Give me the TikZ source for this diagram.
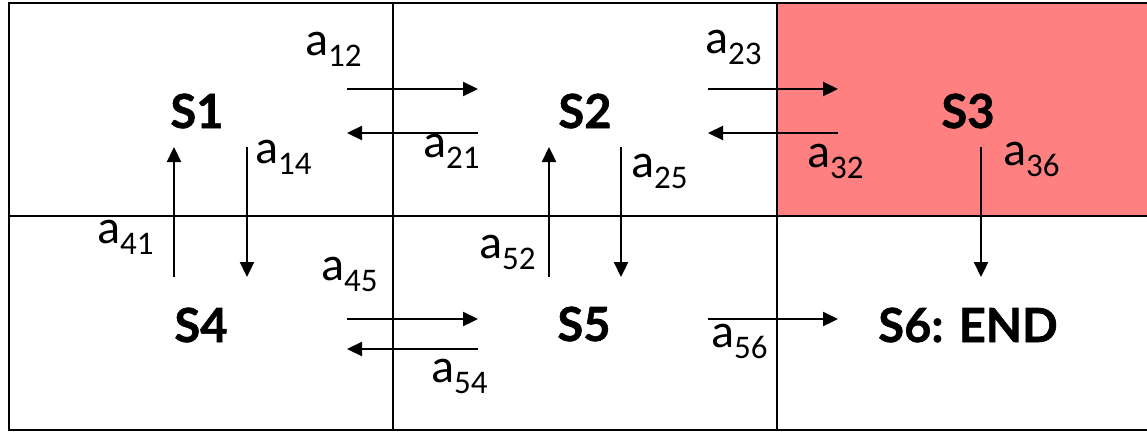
\documentclass[tikz,border=0pt]{standalone}
\usepackage{fontspec}
\setmainfont{Carlito}
\newfontfamily\stfont[BoldFeatures={FakeBold=1.2}]{Lato}
\usetikzlibrary{arrows.meta}
\definecolor{pinkcell}{RGB}{255,128,128}
\newcommand{\alab}[1]{a\raisebox{-11pt}{\fontsize{33}{33}\selectfont #1}}
\begin{document}
\begin{tikzpicture}[x=1pt,y=-1pt,
  grid/.style={line width=2.5pt,draw=black},
  arr/.style={line width=2.3pt,-{Triangle[length=15pt,width=14pt]}},
  lab/.style={inner sep=0pt,anchor=base west,font=\fontsize{48}{48}\selectfont},
  st/.style={inner sep=0pt,anchor=base,font=\stfont\bfseries\fontsize{47}{47}\selectfont}]
\useasboundingbox (0,0) rectangle (1147,431);
\fill[white] (0,0) rectangle (1147,431);
\fill[pinkcell] (777,3) rectangle (1150,216);
\draw[grid] (9,3) rectangle (1152,430);
\draw[grid] (393,3) -- (393,430);
\draw[grid] (777,3) -- (777,430);
\draw[grid] (9,216) -- (1152,216);
% states
\node[st] (S1) at (197,128) {S1};
\node[st] (S2) at (585,128) {S2};
\node[st] (S3) at (968,128) {S3};
\node[st] (S4) at (201,342) {S4};
\node[st] (S5) at (584,341) {S5};
\node[st] (S6) at (968,342) {S6: END};
% arrow end points
\coordinate (a12s) at (347,89);  \coordinate (a12e) at (478,89);
\coordinate (a21s) at (478,133); \coordinate (a21e) at (347,133);
\coordinate (a23s) at (708,89);  \coordinate (a23e) at (838,89);
\coordinate (a32s) at (838,133); \coordinate (a32e) at (708,133);
\coordinate (a14s) at (247,147); \coordinate (a14e) at (247,277);
\coordinate (a41s) at (174,277); \coordinate (a41e) at (174,147);
\coordinate (a25s) at (621,147); \coordinate (a25e) at (621,277);
\coordinate (a52s) at (549,277); \coordinate (a52e) at (549,147);
\coordinate (a36s) at (981,147); \coordinate (a36e) at (981,277);
\coordinate (a45s) at (347,319); \coordinate (a45e) at (478,319);
\coordinate (a54s) at (478,349); \coordinate (a54e) at (347,349);
\coordinate (a56s) at (708,319); \coordinate (a56e) at (838,319);
\foreach \p in {12,21,23,32,14,41,25,52,36,45,54,56}
  \draw[arr] (a\p s) -- (a\p e);
% labels
\node[lab] (l12) at (305,55)  {\alab{12}};
\node[lab] (l21) at (423,157) {\alab{21}};
\node[lab] (l23) at (705,53)  {\alab{23}};
\node[lab] (l32) at (807,167) {\alab{32}};
\node[lab] (l14) at (255,163) {\alab{14}};
\node[lab] (l41) at (97,243)  {\alab{41}};
\node[lab] (l25) at (631,177) {\alab{25}};
\node[lab] (l52) at (479,258) {\alab{52}};
\node[lab] (l36) at (1003,165) {\alab{36}};
\node[lab] (l45) at (321,280) {\alab{45}};
\node[lab] (l54) at (431,382) {\alab{54}};
\node[lab] (l56) at (711,347) {\alab{56}};
\end{tikzpicture}
\end{document}
